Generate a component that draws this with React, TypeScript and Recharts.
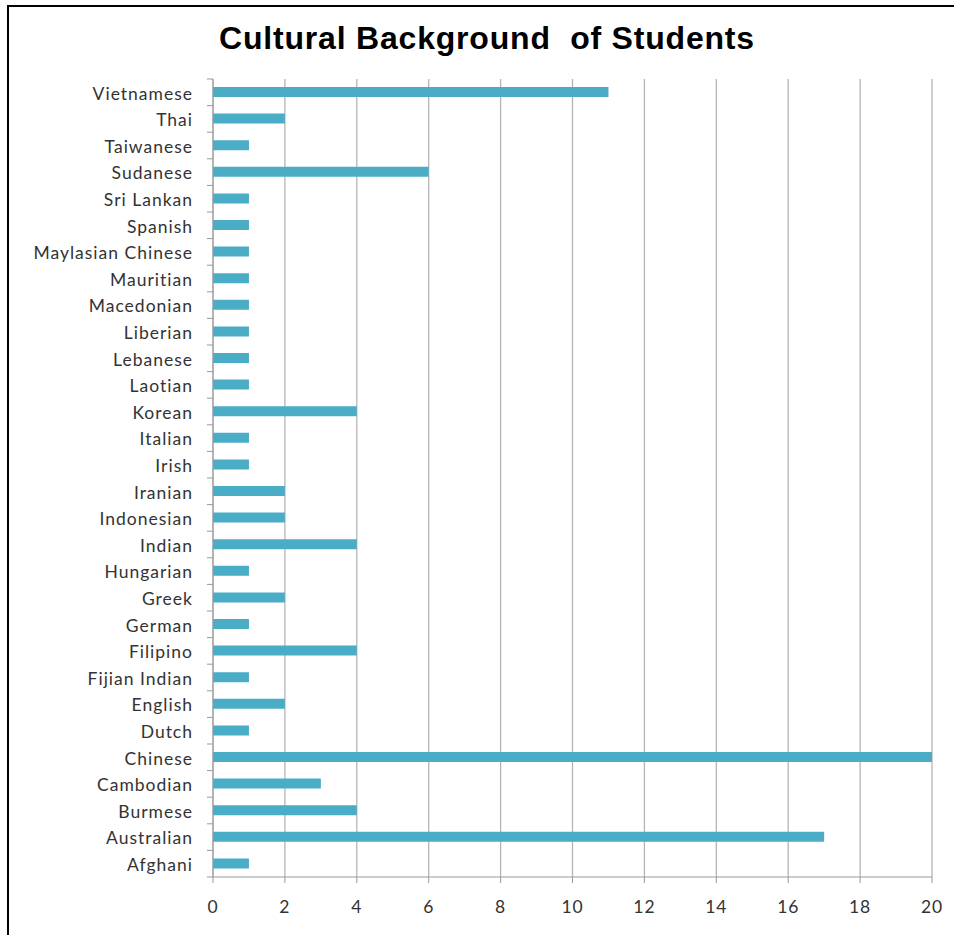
import React from "react";
import { Bar, BarChart, CartesianGrid, XAxis, YAxis } from "recharts";

const categories = [
  "Vietnamese", "Thai", "Taiwanese", "Sudanese", "Sri Lankan", "Spanish",
  "Maylasian Chinese", "Mauritian", "Macedonian", "Liberian", "Lebanese",
  "Laotian", "Korean", "Italian", "Irish", "Iranian", "Indonesian", "Indian",
  "Hungarian", "Greek", "German", "Filipino", "Fijian Indian", "English",
  "Dutch", "Chinese", "Cambodian", "Burmese", "Australian", "Afghani",
];
const students = [
  11, 2, 1, 6, 1, 1, 1, 1, 1, 1, 1, 1, 4, 1, 1, 2, 2, 4, 1, 2, 1, 4, 1, 2, 1,
  20, 3, 4, 17, 1,
];
const xTicks = [0, 2, 4, 6, 8, 10, 12, 14, 16, 18, 20];

const data = categories.map((name, i) => ({ name, students: students[i] }));

const labelFont = "Lato, 'Open Sans', sans-serif";

function CategoryTick(props: any) {
  const { x, y, payload, index } = props;
  const half = 798 / categories.length / 2;
  const axisX = x + 20;
  return (
    <g>
      <line x1={axisX - 6} x2={axisX} y1={y - half} y2={y - half} stroke="#999" />
      {index === categories.length - 1 && (
        <line x1={axisX - 6} x2={axisX} y1={y + half} y2={y + half} stroke="#999" />
      )}
      <text
        x={x}
        y={y}
        dy="0.42em"
        textAnchor="end"
        fill="#333"
        fontSize={17.5}
        fontFamily={labelFont}
        letterSpacing={1}
      >
        {payload.value}
      </text>
    </g>
  );
}

export default function App() {
  return (
    <div
      style={{
        position: "absolute",
        left: 0,
        top: 0,
        width: 954,
        height: 935,
        background: "#fff",
        overflow: "hidden",
      }}
    >
      <div
        style={{
          position: "absolute",
          left: 7,
          top: 5,
          width: 1000,
          height: 1000,
          borderLeft: "2px solid #000",
          borderTop: "2px solid #000",
        }}
      />
      <div
        style={{
          position: "absolute",
          left: 0,
          width: 974,
          top: 20,
          textAlign: "center",
          fontFamily: "'Liberation Sans', Arial, sans-serif",
          fontWeight: "bold",
          fontSize: 32,
          letterSpacing: 0.8,
          color: "#000",
        }}
      >
        Cultural Background&nbsp; of Students
      </div>
      <div style={{ position: "absolute", left: 0, top: 0 }}>
        <BarChart
          width={954}
          height={935}
          data={data}
          layout="vertical"
          margin={{ top: 79, right: 22, bottom: 28, left: 0 }}
          barSize={10}
        >
          <CartesianGrid horizontal={false} stroke="#b5b5b5" strokeWidth={1.3} />
          <XAxis
            type="number"
            domain={[0, 20]}
            ticks={xTicks}
            interval={0}
            height={30}
            axisLine={{ stroke: "#999" }}
            tickLine={{ stroke: "#999" }}
            tickSize={6}
            tickMargin={18}
            tick={{ fill: "#333", fontSize: 17.5, fontFamily: labelFont, letterSpacing: 0.9 }}
          />
          <YAxis
            type="category"
            dataKey="name"
            width={213}
            interval={0}
            axisLine={{ stroke: "#999" }}
            tickLine={false}
            tickSize={6}
            tickMargin={14}
            tick={<CategoryTick />}
          />
          <Bar dataKey="students" fill="#4bacc6" isAnimationActive={false} />
        </BarChart>
      </div>
    </div>
  );
}
